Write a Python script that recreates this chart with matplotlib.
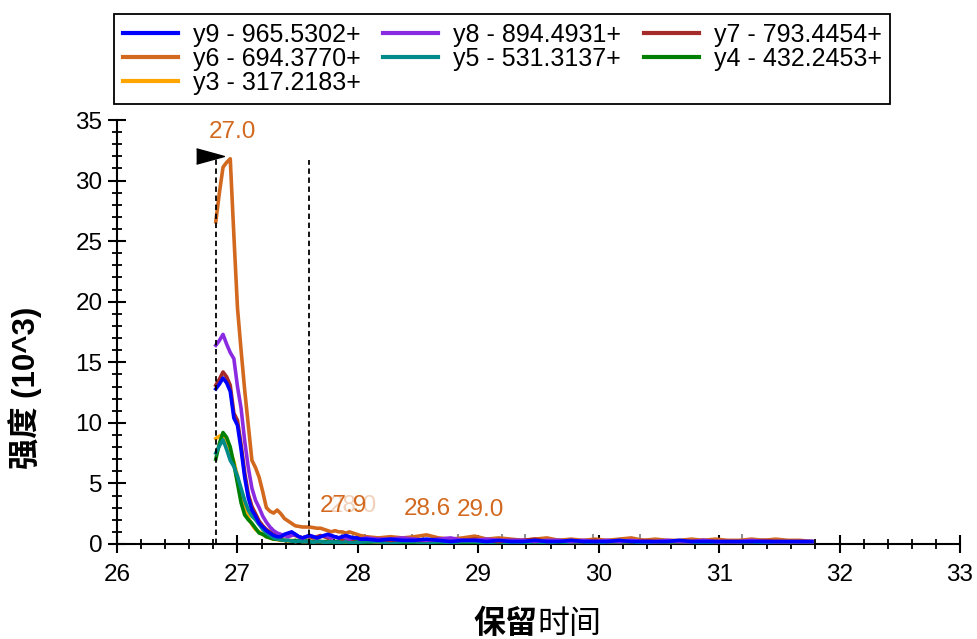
import numpy as np
import matplotlib.pyplot as plt
from matplotlib.ticker import MultipleLocator

plt.rcParams['font.family'] = ['Liberation Sans', 'Noto Sans CJK SC', 'DejaVu Sans']

# retention time grid: fine scans across the peak, coarser in the tail
rt = np.round(np.concatenate([26.82 + 0.03 * np.arange(41),
                              28.07 + 0.10 * np.arange(38)]), 2)

# intensities (x10^3) for each transition
y9 = [12.8, 13.2, 13.7, 13.3, 12.6, 10.4, 9.8, 7.8, 5.5, 3.8, 2.8, 2.3, 1.7, 1.4, 1.1, 0.9, 0.7, 0.6, 0.6, 0.8,
      0.9, 1.0, 0.8, 0.6, 0.5, 0.6, 0.7, 0.6, 0.5, 0.6, 0.7, 0.8, 0.7, 0.6, 0.5, 0.6, 0.7, 0.6, 0.5, 0.5, 0.4] + \
     [0.4, 0.3, 0.4, 0.3, 0.3, 0.4, 0.3, 0.2, 0.3, 0.3, 0.2, 0.3, 0.2, 0.2, 0.3, 0.2, 0.2, 0.3, 0.2, 0.2,
      0.2, 0.3, 0.2, 0.2, 0.2, 0.2, 0.3, 0.2, 0.2, 0.2, 0.2, 0.2, 0.2, 0.2, 0.2, 0.2, 0.2, 0.2]
y8 = [16.4, 16.8, 17.3, 16.5, 15.8, 15.3, 13.0, 11.2, 8.5, 6.3, 4.6, 3.6, 3.0, 2.3, 1.8, 1.4, 1.1, 0.9, 0.8, 0.7,
      0.6, 0.7, 0.8, 0.6, 0.5, 0.6, 0.7, 0.6, 0.5, 0.6, 0.7, 0.6, 0.5, 0.6, 0.5, 0.6, 0.5, 0.4, 0.5, 0.5, 0.4] + \
     [0.5, 0.4, 0.4, 0.5, 0.4, 0.3, 0.4, 0.5, 0.3, 0.3, 0.4, 0.3, 0.3, 0.3, 0.2, 0.3, 0.3, 0.2, 0.3, 0.2,
      0.3, 0.2, 0.3, 0.2, 0.2, 0.3, 0.2, 0.2, 0.3, 0.2, 0.2, 0.2, 0.3, 0.2, 0.2, 0.2, 0.2, 0.2]
y7 = [13.1, 13.6, 14.2, 13.8, 13.1, 10.8, 10.2, 8.2, 5.9, 4.1, 3.1, 2.5, 1.9, 1.5, 1.2, 1.0, 0.8, 0.7, 0.6, 0.7,
      0.8, 0.8, 0.7, 0.6, 0.5, 0.6, 0.6, 0.5, 0.6, 0.7, 0.6, 0.5, 0.5, 0.6, 0.5, 0.4, 0.5, 0.4, 0.4, 0.5, 0.4] + \
     [0.4, 0.4, 0.3, 0.4, 0.3, 0.3, 0.4, 0.3, 0.3, 0.4, 0.3, 0.2, 0.3, 0.3, 0.4, 0.2, 0.3, 0.2, 0.2, 0.3,
      0.2, 0.2, 0.2, 0.3, 0.2, 0.2, 0.2, 0.2, 0.3, 0.2, 0.2, 0.2, 0.2, 0.3, 0.2, 0.2, 0.2, 0.2]
y6 = [26.6, 29.0, 31.1, 31.5, 31.8, 25.5, 19.5, 16.0, 12.7, 9.8, 6.9, 6.3, 5.5, 4.3, 3.0, 2.7, 2.55, 2.8, 2.5, 2.1,
      1.9, 1.7, 1.5, 1.45, 1.4, 1.4, 1.4, 1.35, 1.3, 1.3, 1.2, 1.1, 1.0, 1.1, 1.0, 1.0, 0.9, 1.0, 0.9, 0.8, 0.7] + \
     [0.6, 0.5, 0.6, 0.5, 0.6, 0.75, 0.5, 0.4, 0.5, 0.65, 0.4, 0.5, 0.4, 0.3, 0.4, 0.5, 0.3, 0.4, 0.3, 0.4,
      0.3, 0.4, 0.5, 0.3, 0.4, 0.3, 0.3, 0.4, 0.3, 0.4, 0.3, 0.3, 0.4, 0.3, 0.4, 0.3, 0.3, 0.2]
y5 = [7.5, 8.1, 8.6, 7.8, 6.9, 6.4, 5.6, 4.6, 3.6, 2.8, 2.3, 2.0, 1.6, 1.2, 0.9, 0.7, 0.5, 0.4, 0.35, 0.3,
      0.3, 0.25, 0.2, 0.25, 0.2, 0.2, 0.2, 0.15, 0.2, 0.2, 0.15, 0.15, 0.2, 0.15, 0.15, 0.15, 0.2, 0.15, 0.1, 0.15, 0.15] + \
     [0.2, 0.2, 0.1, 0.2, 0.2, 0.1, 0.2, 0.1, 0.2, 0.2, 0.1, 0.2, 0.1, 0.1, 0.2, 0.1, 0.2, 0.1, 0.1, 0.2,
      0.1, 0.1, 0.2, 0.1, 0.1, 0.1, 0.2, 0.1, 0.1, 0.1, 0.2, 0.1, 0.1, 0.1, 0.1, 0.1, 0.1, 0.1]
y4 = [7.0, 8.3, 9.2, 8.8, 8.0, 6.6, 5.0, 3.4, 2.4, 2.0, 1.7, 1.3, 0.9, 0.8, 0.6, 0.5, 0.4, 0.4, 0.35, 0.3,
      0.3, 0.25, 0.3, 0.25, 0.2, 0.25, 0.2, 0.2, 0.25, 0.2, 0.2, 0.2, 0.15, 0.2, 0.2, 0.15, 0.2, 0.15, 0.15, 0.2, 0.15] + \
     [0.15, 0.2, 0.15, 0.1, 0.15, 0.2, 0.1, 0.15, 0.1, 0.15, 0.1, 0.1, 0.15, 0.1, 0.1, 0.15, 0.1, 0.1, 0.1, 0.15,
      0.1, 0.1, 0.1, 0.15, 0.1, 0.1, 0.1, 0.1, 0.15, 0.1, 0.1, 0.1, 0.1, 0.1, 0.15, 0.1, 0.1, 0.1]
y3 = [8.7, 8.9, 9.0, 8.5, 7.6, 6.8, 5.6, 4.2, 3.0, 2.2, 1.6, 1.2, 1.0, 0.8, 0.6, 0.5, 0.4, 0.35, 0.3, 0.3,
      0.25, 0.3, 0.2, 0.25, 0.2, 0.2, 0.25, 0.2, 0.2, 0.2, 0.15, 0.2, 0.2, 0.15, 0.2, 0.15, 0.15, 0.2, 0.15, 0.15, 0.15] + \
     [0.2, 0.15, 0.2, 0.15, 0.1, 0.15, 0.2, 0.1, 0.15, 0.1, 0.15, 0.1, 0.1, 0.15, 0.1, 0.1, 0.1, 0.15, 0.1, 0.1,
      0.15, 0.1, 0.1, 0.1, 0.1, 0.15, 0.1, 0.1, 0.1, 0.1, 0.1, 0.15, 0.1, 0.1, 0.1, 0.1, 0.1, 0.1]

names = ['y9 - 965.5302+', 'y8 - 894.4931+', 'y7 - 793.4454+', 'y6 - 694.3770+',
         'y5 - 531.3137+', 'y4 - 432.2453+', 'y3 - 317.2183+']
colors = ['#0000ff', '#8a2be2', '#a52a2a', '#d2691e', '#008b8b', '#008000', '#ffa500']
traces = [y9, y8, y7, y6, y5, y4, y3]

# integration boundaries and apex labels
bound_left, bound_right = 26.82, 27.59
bound_top = [32.0, 31.7]
peak_rt = [26.96, 27.88, 27.96, 28.58, 29.02]
peak_top = [31.8, 1.0, 1.0, 0.75, 0.65]
peak_alpha = [1.0, 1.0, 0.3, 1.0, 1.0]
edge_marks = [27.75, 27.87, 27.96, 28.06, 28.45, 28.54, 28.83, 29.20, 29.39, 29.95, 30.34, 31.19]

fig = plt.figure(figsize=(9.77, 6.39), dpi=100)
ax = fig.add_axes([0.1198, 0.1487, 0.8628, 0.6635])

lines = {}
for name, c, y in reversed(list(zip(names, colors, traces))):
    lines[name], = ax.plot(rt, y, color=c, lw=2.6, label=name, zorder=3)

ax.vlines(edge_marks, 0, 0.8, colors='#909090', lw=1.5, zorder=2)

ax.vlines([bound_left, bound_right], 0, bound_top, colors='black', lw=1.3,
          linestyles=(0, (3, 2)), zorder=4)
ax.plot([26.775], [32.05], marker=[(-1, -0.55), (1, 0), (-1, 0.55)], ms=20,
        color='black', mec='black', zorder=5)

for r, h, a in zip(peak_rt, peak_top, peak_alpha):
    ax.annotate(f'{r:.1f}', (r, h), xytext=(0, 11), textcoords='offset points',
                ha='center', va='bottom', fontsize=17.5, color='#d2691e', alpha=a)

ax.set_xlim(26, 33)
ax.set_ylim(0, 35)
ax.xaxis.set_major_locator(MultipleLocator(1))
ax.xaxis.set_minor_locator(MultipleLocator(0.2))
ax.yaxis.set_major_locator(MultipleLocator(5))
ax.yaxis.set_minor_locator(MultipleLocator(1))
ax.tick_params(which='major', direction='inout', length=13, width=1.5, labelsize=17.5)
ax.tick_params(which='minor', direction='inout', length=7, width=1.3)
ax.tick_params(axis='x', which='major', pad=8)
ax.tick_params(axis='y', which='major', pad=4)
for s in ['top', 'right']:
    ax.spines[s].set_visible(False)
for s in ['left', 'bottom']:
    ax.spines[s].set_linewidth(1.5)

# axis titles: the first part of each is set in bold
fig.text(537 / 977, 1 - 624 / 639, '保留', ha='right', va='center', fontsize=23,
         fontweight='bold', family=['Noto Sans CJK SC'])
fig.text(537 / 977, 1 - 624 / 639, '时间', ha='left', va='center', fontsize=23,
         family=['Noto Sans CJK SC'])
fig.text(25 / 977, 1 - 388 / 639, '强度 (10^3)', ha='center', va='center', rotation=90,
         fontsize=22.5, fontweight='bold')

# legend laid out row by row
order = ['y9 - 965.5302+', 'y6 - 694.3770+', 'y3 - 317.2183+', 'y8 - 894.4931+',
         'y5 - 531.3137+', 'y7 - 793.4454+', 'y4 - 432.2453+']
leg = fig.legend([lines[n] for n in order], order, loc='upper left',
                 bbox_to_anchor=(114 / 977, 1 - 14 / 639), ncol=3, fontsize=18,
                 frameon=True, fancybox=False, edgecolor='black', framealpha=1,
                 handlelength=2.2, handletextpad=0.6, columnspacing=0.9,
                 labelspacing=0.0, borderpad=0.35, borderaxespad=0)
leg.get_frame().set_linewidth(1.3)
for h in leg.legend_handles:
    h.set_linewidth(3)

fig.savefig('out.png', dpi=100)
